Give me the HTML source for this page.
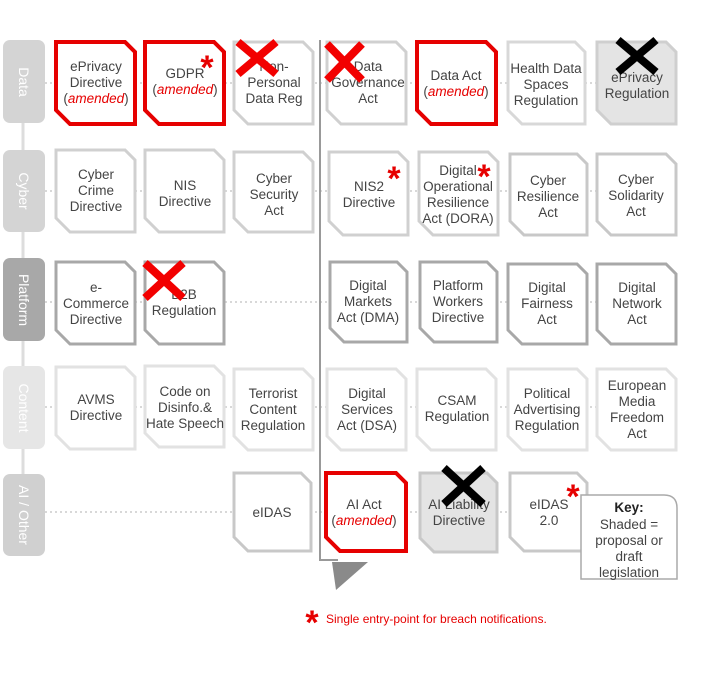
<!DOCTYPE html>
<html><head><meta charset="utf-8"><style>
html,body{margin:0;padding:0;background:#fff;}
svg text{font-family:"Liberation Sans",Arial,sans-serif;}
</style></head><body>
<svg width="703" height="681" viewBox="0 0 703 681" xmlns="http://www.w3.org/2000/svg">
<line x1="23" y1="60" x2="23" y2="540" stroke="#ddd" stroke-width="3"/>
<g stroke="#d8d8d8" stroke-width="2" stroke-dasharray="2,3">
<line x1="45" y1="83" x2="600" y2="83"/>
<line x1="45" y1="191" x2="600" y2="191"/>
<line x1="45" y1="302" x2="600" y2="302"/>
<line x1="45" y1="407" x2="600" y2="407"/>
<line x1="45" y1="512" x2="600" y2="512"/>
</g>
<g>
<rect x="3" y="40" width="42" height="83" rx="7" fill="#d4d4d4"/>
<rect x="3" y="150" width="42" height="82" rx="7" fill="#d4d4d4"/>
<rect x="3" y="258" width="42" height="83" rx="7" fill="#a8a8a8"/>
<rect x="3" y="366" width="42" height="83" rx="7" fill="#e6e6e6"/>
<rect x="3" y="474" width="42" height="82" rx="7" fill="#d0d0d0"/>
<g fill="#fff" font-size="14" text-anchor="middle">
<text transform="translate(19,82) rotate(90)">Data</text>
<text transform="translate(19,191) rotate(90)">Cyber</text>
<text transform="translate(19,300) rotate(90)">Platform</text>
<text transform="translate(19,408) rotate(90)">Content</text>
<text transform="translate(19,515) rotate(90)">AI / Other</text>
</g>
</g>
<polyline points="320,40 320,560 338,560" fill="none" stroke="#999" stroke-width="2"/>
<polygon points="332,562 368,562 336,590" fill="#8a8a8a"/>

<g stroke-linejoin="miter">
<polygon points="56,42 125,42 135,52 135,124 70,124 56,110" fill="#fff" stroke="#e60000" stroke-width="4"/>
<polygon points="145,42 214,42 224,52 224,124 159,124 145,110" fill="#fff" stroke="#e60000" stroke-width="4"/>
<polygon points="234,42 303,42 313,52 313,124 248,124 234,110" fill="#fff" stroke="#d0d0d0" stroke-width="3"/>
<polygon points="327,42 396,42 406,52 406,124 341,124 327,110" fill="#fff" stroke="#d0d0d0" stroke-width="3"/>
<polygon points="417,42 486,42 496,52 496,124 431,124 417,110" fill="#fff" stroke="#e60000" stroke-width="4"/>
<polygon points="508,42 575,42 585,52 585,124 522,124 508,110" fill="#fff" stroke="#d8d8d8" stroke-width="3"/>
<polygon points="597,42 666,42 676,52 676,124 611,124 597,110" fill="#e4e4e4" stroke="#cfcfcf" stroke-width="3"/>
<polygon points="56,150 125,150 135,160 135,232 70,232 56,218" fill="#fff" stroke="#d0d0d0" stroke-width="3"/>
<polygon points="145,150 214,150 224,160 224,232 159,232 145,218" fill="#fff" stroke="#d0d0d0" stroke-width="3"/>
<polygon points="234,152 303,152 313,162 313,232 248,232 234,218" fill="#fff" stroke="#d0d0d0" stroke-width="3"/>
<polygon points="329,152 398,152 408,162 408,235 343,235 329,221" fill="#fff" stroke="#d0d0d0" stroke-width="3"/>
<polygon points="419,152 488,152 498,162 498,235 433,235 419,221" fill="#fff" stroke="#d0d0d0" stroke-width="3"/>
<polygon points="510,154 577,154 587,164 587,235 524,235 510,221" fill="#fff" stroke="#c8c8c8" stroke-width="3"/>
<polygon points="597,154 666,154 676,164 676,235 611,235 597,221" fill="#fff" stroke="#c8c8c8" stroke-width="3"/>
<polygon points="56,262 125,262 135,272 135,344 70,344 56,330" fill="#fff" stroke="#a8a8a8" stroke-width="3"/>
<polygon points="145,262 214,262 224,272 224,344 159,344 145,330" fill="#fff" stroke="#a8a8a8" stroke-width="3"/>
<polygon points="330,262 397,262 407,272 407,342 344,342 330,328" fill="#fff" stroke="#a8a8a8" stroke-width="3"/>
<polygon points="420,262 487,262 497,272 497,342 434,342 420,328" fill="#fff" stroke="#a8a8a8" stroke-width="3"/>
<polygon points="508,264 577,264 587,274 587,344 522,344 508,330" fill="#fff" stroke="#a8a8a8" stroke-width="3"/>
<polygon points="597,264 666,264 676,274 676,344 611,344 597,330" fill="#fff" stroke="#a8a8a8" stroke-width="3"/>
<polygon points="56,367 125,367 135,377 135,449 70,449 56,435" fill="#fff" stroke="#e2e2e2" stroke-width="3"/>
<polygon points="145,366 214,366 224,376 224,447 159,447 145,433" fill="#fff" stroke="#e2e2e2" stroke-width="3"/>
<polygon points="234,369 303,369 313,379 313,450 248,450 234,436" fill="#fff" stroke="#e2e2e2" stroke-width="3"/>
<polygon points="327,369 396,369 406,379 406,450 341,450 327,436" fill="#fff" stroke="#e2e2e2" stroke-width="3"/>
<polygon points="417,369 486,369 496,379 496,450 431,450 417,436" fill="#fff" stroke="#e2e2e2" stroke-width="3"/>
<polygon points="508,369 577,369 587,379 587,450 522,450 508,436" fill="#fff" stroke="#e2e2e2" stroke-width="3"/>
<polygon points="597,369 666,369 676,379 676,450 611,450 597,436" fill="#fff" stroke="#e2e2e2" stroke-width="3"/>
<polygon points="234,473 301,473 311,483 311,551 248,551 234,537" fill="#fff" stroke="#c8c8c8" stroke-width="3"/>
<polygon points="326,473 396,473 406,483 406,551 340,551 326,537" fill="#fff" stroke="#e60000" stroke-width="4"/>
<polygon points="420,473 487,473 497,483 497,552 434,552 420,538" fill="#e4e4e4" stroke="#c8c8c8" stroke-width="3"/>
<polygon points="510,473 577,473 587,483 587,551 524,551 510,537" fill="#fff" stroke="#c8c8c8" stroke-width="3"/>
</g>
<path d="M581,495 H664 Q677,495 677,508 V579 H581 Z" fill="#fff" stroke="#aaa" stroke-width="1.5"/>

<g font-size="13.5" fill="#444" text-anchor="middle">
<text x="96" y="71">ePrivacy</text><text x="96" y="87">Directive</text>
<text x="96" y="103">(<tspan fill="#e60000" font-style="italic">amended</tspan>)</text>
<text x="185" y="78">GDPR</text>
<text x="185" y="94">(<tspan fill="#e60000" font-style="italic">amended</tspan>)</text>
<text x="274" y="71">Non-</text><text x="274" y="87">Personal</text><text x="274" y="103">Data Reg</text>
<text x="368" y="71">Data</text><text x="368" y="87">Governance</text><text x="368" y="103">Act</text>
<text x="456" y="80">Data Act</text>
<text x="456" y="96">(<tspan fill="#e60000" font-style="italic">amended</tspan>)</text>
<text x="546" y="73">Health Data</text><text x="546" y="89">Spaces</text><text x="546" y="105">Regulation</text>
<text x="637" y="82">ePrivacy</text><text x="637" y="98">Regulation</text>

<text x="96" y="179">Cyber</text><text x="96" y="195">Crime</text><text x="96" y="211">Directive</text>
<text x="185" y="190">NIS</text><text x="185" y="206">Directive</text>
<text x="274" y="183">Cyber</text><text x="274" y="199">Security</text><text x="274" y="215">Act</text>
<text x="369" y="191">NIS2</text><text x="369" y="207">Directive</text>
<text x="458" y="175">Digital</text><text x="458" y="191">Operational</text><text x="458" y="207">Resilience</text><text x="458" y="223">Act (DORA)</text>
<text x="548" y="185">Cyber</text><text x="548" y="201">Resilience</text><text x="548" y="217">Act</text>
<text x="636" y="184">Cyber</text><text x="636" y="200">Solidarity</text><text x="636" y="216">Act</text>

<text x="96" y="292">e-</text><text x="96" y="308">Commerce</text><text x="96" y="324">Directive</text>
<text x="184" y="299">B2B</text><text x="184" y="315">Regulation</text>
<text x="368" y="290">Digital</text><text x="368" y="306">Markets</text><text x="368" y="322">Act (DMA)</text>
<text x="458" y="290">Platform</text><text x="458" y="306">Workers</text><text x="458" y="322">Directive</text>
<text x="547" y="292">Digital</text><text x="547" y="308">Fairness</text><text x="547" y="324">Act</text>
<text x="637" y="292">Digital</text><text x="637" y="308">Network</text><text x="637" y="324">Act</text>

<text x="96" y="404">AVMS</text><text x="96" y="420">Directive</text>
<text x="185" y="396">Code on</text><text x="185" y="412">Disinfo.&amp;</text><text x="185" y="428">Hate Speech</text>
<text x="273" y="398">Terrorist</text><text x="273" y="414">Content</text><text x="273" y="430">Regulation</text>
<text x="367" y="398">Digital</text><text x="367" y="414">Services</text><text x="367" y="430">Act (DSA)</text>
<text x="457" y="405">CSAM</text><text x="457" y="421">Regulation</text>
<text x="547" y="398">Political</text><text x="547" y="414">Advertising</text><text x="547" y="430">Regulation</text>
<text x="637" y="390">European</text><text x="637" y="406">Media</text><text x="637" y="422">Freedom</text><text x="637" y="438">Act</text>

<text x="272" y="517">eIDAS</text>
<text x="364" y="509">AI Act</text>
<text x="364" y="525">(<tspan fill="#e60000" font-style="italic">amended</tspan>)</text>
<text x="459" y="509">AI Liability</text><text x="459" y="525">Directive</text>
<text x="549" y="509">eIDAS</text><text x="549" y="525">2.0</text>

<text x="629" y="512" font-weight="bold" fill="#222">Key:</text>
<text x="629" y="529">Shaded =</text><text x="629" y="545">proposal or</text><text x="629" y="561">draft</text><text x="629" y="577">legislation</text>
</g>

<g stroke-width="8" stroke-linecap="butt">
<g stroke="#f20000">
<line x1="238" y1="42" x2="276" y2="74"/><line x1="276" y1="42" x2="238" y2="74"/>
<line x1="327" y1="44" x2="362" y2="80"/><line x1="362" y1="44" x2="327" y2="80"/>
<line x1="145" y1="263" x2="183" y2="298"/><line x1="183" y1="263" x2="145" y2="298"/>
</g>
<g stroke="#000">
<line x1="618" y1="40" x2="656" y2="72"/><line x1="656" y1="40" x2="618" y2="72"/>
<line x1="444" y1="468" x2="483" y2="504"/><line x1="483" y1="468" x2="444" y2="504"/>
</g>
</g>
<g fill="#e60000" font-size="34" font-weight="bold" text-anchor="middle">
<text x="207" y="79">*</text>
<text x="394" y="190">*</text>
<text x="484" y="188">*</text>
<text x="573" y="508">*</text>
<text x="312" y="634">*</text>
</g>
<text x="326" y="623" font-size="12" fill="#e60000">Single entry-point for breach notifications.</text>
</svg>
</body></html>
